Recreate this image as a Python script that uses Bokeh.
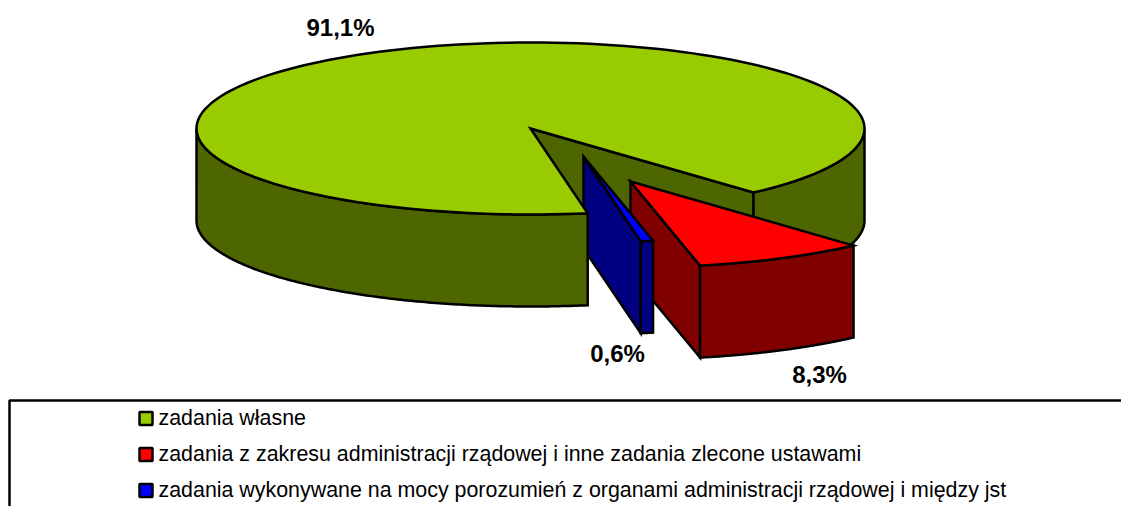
import numpy as np
from bokeh.plotting import figure
from bokeh.embed import file_html
from bokeh.resources import INLINE
from bokeh.core.properties import value

# --- chart data ---
categories = [
    "zadania własne",
    "zadania z zakresu administracji rządowej i inne zadania zlecone ustawami",
    "zadania wykonywane na mocy porozumień z organami administracji rządowej i między jst",
]
shares = [91.1, 8.3, 0.6]
share_labels = ["91,1%", "8,3%", "0,6%"]
top_colors = ["#99CC00", "#FF0000", "#0000FF"]
side_colors = ["#4D6600", "#800000", "#000080"]

# --- pie geometry (page pixels) ---
CX, CY, RX, RY, DEPTH = 530.0, 128.0, 334.0, 86.0, 92.0
FIRST_ANGLE = 48.1                     # where the red slice starts, clockwise on screen
explode = {0: (0, 0), 1: (100, 53), 2: (53, 28)}
label_pos = [(340, 27), (819, 374), (617, 353)]
legend_y = [417, 453, 489]

W, H = 1121, 506
p = figure(width=W, height=H, x_range=(0, W), y_range=(H, 0),
           output_backend="svg", toolbar_location=None, min_border=0,
           background_fill_color="white", border_fill_color="white")
p.axis.visible = False
p.grid.visible = False
p.outline_line_color = None
LW = 2.5


def arc(i, a0, a1, dy=0.0):
    ox, oy = explode[i]
    t = np.radians(np.linspace(a0, a1, 160))
    return CX + ox + RX * np.cos(t), CY + oy + dy + RY * np.sin(t)


def wall(i, a0, a1):
    x0, y0 = arc(i, a0, a1)
    x1, y1 = arc(i, a0, a1, DEPTH)
    return list(x0) + list(x1[::-1]), list(y0) + list(y1[::-1])


def inner_wall(i, a):
    ox, oy = explode[i]
    ex, ey = arc(i, a, a)
    cx, cy = CX + ox, CY + oy
    return ([cx, ex[0], ex[0], cx], [cy, ey[0], ey[0] + DEPTH, cy + DEPTH])


def top(i, a0, a1):
    ox, oy = explode[i]
    x, y = arc(i, a0, a1)
    return [CX + ox] + list(x), [CY + oy] + list(y)


def draw(poly, color):
    p.patch(poly[0], poly[1], fill_color=color, line_color="black",
            line_width=LW, line_join="miter")


deg = [s / sum(shares) * 360 for s in shares]
red0, red1 = FIRST_ANGLE, FIRST_ANGLE + deg[1]
blue0, blue1 = red1, red1 + deg[2]
green0, green1 = blue1, FIRST_ANGLE + 360

# back parts of the big slice
draw(inner_wall(0, green1), side_colors[0])
draw(wall(0, 360, green1), side_colors[0])
# medium slice
draw(inner_wall(1, red1), side_colors[1])
draw(wall(1, red0, red1), side_colors[1])
draw(top(1, red0, red1), top_colors[1])
# small slice
draw(inner_wall(2, blue1), side_colors[2])
draw(wall(2, blue0, blue1), side_colors[2])
draw(top(2, blue0, blue1), top_colors[2])
# front of the big slice overlaps the small slice's left edge
draw(wall(0, green0, 180), side_colors[0])
draw(top(0, green0, green1), top_colors[0])

# value labels
p.text([q[0] for q in label_pos], [q[1] for q in label_pos], text=share_labels,
       text_font=value("Liberation Sans"), text_font_style="bold",
       text_font_size="24px", text_color="black",
       text_align="center", text_baseline="middle")

# legend frame, open to the right and the bottom
p.line([W, 9, 9], [400, 400, H], line_color="black", line_width=LW)

# legend
p.rect([145.5] * 3, [y + 1 for y in legend_y], width=13, height=13, fill_color=top_colors,
       line_color="black", line_width=LW)
p.text([158] * 3, legend_y, text=categories,
       text_font=value("Liberation Sans"), text_font_size="21.4px",
       text_color="black", text_align="left", text_baseline="middle")

open("out.html", "w").write(file_html(p, INLINE))
